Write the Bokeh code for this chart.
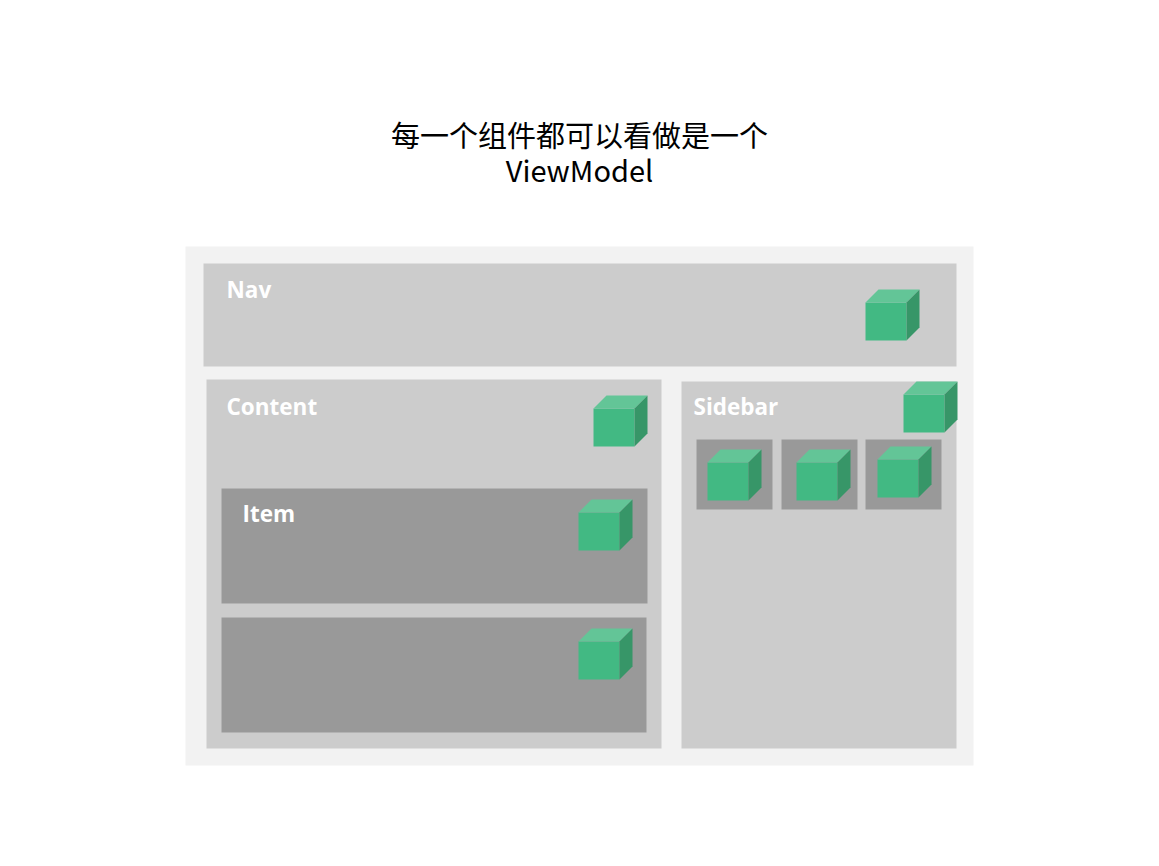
from bokeh.plotting import figure
from bokeh.models import Range1d
from bokeh.core.properties import value
from bokeh.embed import file_html
from bokeh.resources import INLINE

# boxes: left, right, top, bottom (page pixels), colour
box_left = [185, 203, 206, 681, 221, 221, 696, 781, 865]
box_right = [973, 956, 661, 956, 647, 646, 772, 857, 941]
box_top = [246, 263, 379, 381, 488, 617, 439, 439, 439]
box_bottom = [765, 366, 748, 748, 603, 732, 509, 509, 509]
box_color = ["#f2f2f2", "#cccccc", "#cccccc", "#cccccc", "#999999", "#999999",
             "#999999", "#999999", "#999999"]

# cubes: front-face top-left corner
cube_x = [865, 593, 903, 578, 578, 707, 796, 877]
cube_y = [302, 408, 394, 512, 641, 462, 462, 459]
cw, ch, d = 41, 38, 13

labels = ["Nav", "Content", "Sidebar", "Item"]
label_x = [226, 226, 693, 242]
label_y = [289, 406, 406, 513]

p = figure(width=1143, height=850, x_range=Range1d(0, 1143), y_range=Range1d(850, 0),
           output_backend="svg", toolbar_location=None, min_border=0)
p.axis.visible = False
p.grid.visible = False
p.outline_line_color = None

p.quad(left=box_left, right=box_right, top=box_top, bottom=box_bottom,
       fill_color=box_color, line_color=None)

front_xs = [[x, x + cw, x + cw, x] for x in cube_x]
front_ys = [[y, y, y + ch, y + ch] for y in cube_y]
top_xs = [[x, x + d, x + cw + d, x + cw] for x in cube_x]
top_ys = [[y, y - d, y - d, y] for y in cube_y]
side_xs = [[x + cw, x + cw + d, x + cw + d, x + cw] for x in cube_x]
side_ys = [[y, y - d, y + ch - d, y + ch] for y in cube_y]
p.patches(front_xs, front_ys, fill_color="#42b983", line_color=None)
p.patches(top_xs, top_ys, fill_color="#63c597", line_color=None)
p.patches(side_xs, side_ys, fill_color="#379668", line_color=None)

p.text(x=label_x, y=label_y, text=labels, text_color="white", text_font_size="22.5px",
       text_font_style="bold", text_font=value("Open Sans"), text_baseline="middle")

p.text(x=[579, 579], y=[133, 168], text=["每一个组件都可以看做是一个", "ViewModel"],
       text_align="center", text_baseline="middle", text_font_size="29px",
       text_font=value("Noto Sans CJK SC"), text_color="black")

open("out.html", "w").write(file_html(p, INLINE))
